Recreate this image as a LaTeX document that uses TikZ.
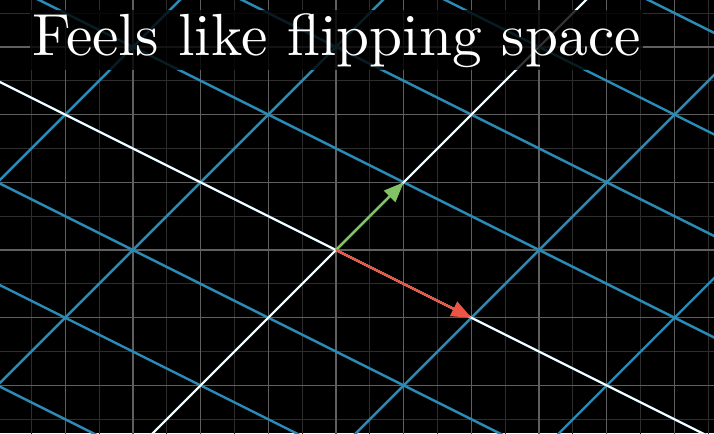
\documentclass[tikz,border=0pt]{standalone}
\usepackage{fontspec}
\setmainfont{lmroman10-regular.otf}
\usetikzlibrary{arrows.meta}
\definecolor{gridmain}{RGB}{95,95,95}
\definecolor{gridhalf}{RGB}{45,45,45}
\definecolor{planeblue}{RGB}{42,140,182}
\definecolor{vgreen}{RGB}{131,193,103}
\definecolor{vred}{RGB}{236,84,68}
\tikzset{
  mainline/.style={draw=gridmain, line width=1.3pt},
  halfline/.style={draw=gridhalf, line width=1pt},
  blueline/.style={draw=planeblue, line width=2.4pt},
  axisline/.style={draw=white, line width=2pt},
  vecarrow/.style={line width=2.2pt, -{Triangle[length=20pt,width=16pt]}},
  titletext/.style={text=white, font=\fontsize{59.4}{64}\selectfont, anchor=base west,
    fill=black, fill opacity=0.8, text opacity=1, inner xsep=2pt, inner ysep=3pt}
}
\begin{document}
\begin{tikzpicture}[x=67.7pt,y=67.7pt]
\fill[black] (-4.963,-2.703) rectangle (5.583,3.693);
\useasboundingbox (-4.963,-2.703) rectangle (5.583,3.693);
\begin{scope}
\clip (-4.963,-2.703) rectangle (5.583,3.693);
% background grid
\foreach \k in {-10,...,12} {
  \draw[halfline] (\k/2,-3) -- (\k/2,4);
}
\foreach \k in {-6,...,8} {
  \draw[halfline] (-5,\k/2) -- (6,\k/2);
}
\foreach \k in {-5,...,6} {
  \draw[mainline] (\k,-3) -- (\k,4);
}
\foreach \k in {-3,...,4} {
  \draw[mainline] (-5,\k) -- (6,\k);
}
% transformed grid: i-hat=(1,1), j-hat=(2,-1)
\foreach \k in {-6,...,6} {
  \draw[blueline] ({2*\k-10},{-\k-10}) -- ({2*\k+10},{-\k+10});
}
\foreach \k in {-12,...,12} {
  \draw[blueline] ({\k-20},{\k+10}) -- ({\k+20},{\k-10});
}
% transformed axes
\coordinate (O) at (0,0);
\coordinate (I) at (1,1);
\coordinate (J) at (2,-1);
\coordinate (a1) at (-10,-10);
\coordinate (a2) at (10,10);
\coordinate (b1) at (-20,10);
\coordinate (b2) at (20,-10);
\draw[axisline] (a1) -- (a2);
\draw[axisline] (b1) -- (b2);
\end{scope}
% vectors
\draw[vecarrow, draw=vgreen, fill=vgreen] (O) -- (I);
\draw[vecarrow, draw=vred, fill=vred] (O) -- (J);
% title with dark backdrop
\node[titletext] (title) at (-4.52,2.88) {Feels like flipping space};
\end{tikzpicture}
\end{document}
